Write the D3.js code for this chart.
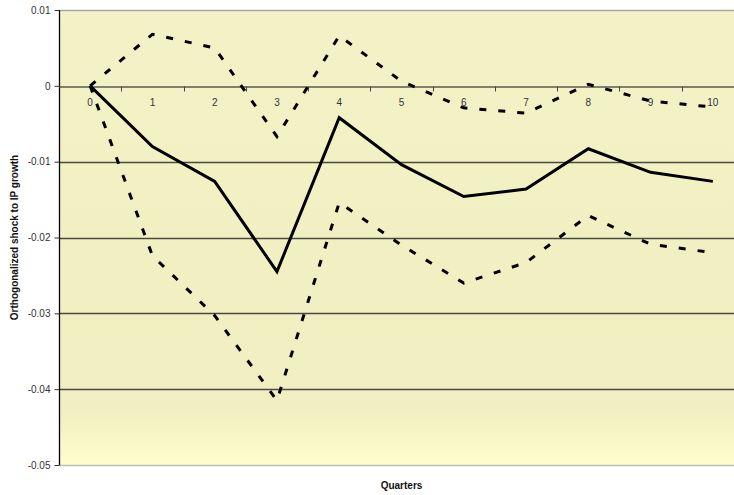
<!DOCTYPE html>
<html>
<head>
<meta charset="utf-8">
<script src="https://cdn.jsdelivr.net/npm/d3@7"></script>
<style>
  html, body { margin: 0; padding: 0; background: #fff; }
  svg { display: block; }
  text { font-family: "Liberation Sans", Arial, sans-serif; }
</style>
</head>
<body>
<svg id="chart" width="734" height="495"></svg>
<script>
const quarters = ["0","1","2","3","4","5","6","7","8","9","10"];
const response = [0, -0.0080, -0.0126, -0.0245, -0.0042, -0.0104, -0.0146, -0.0136, -0.0083, -0.0114, -0.0126];
const upperBand = [0, 0.0068, 0.0050, -0.0067, 0.0066, 0.0006, -0.0029, -0.0036, 0.0002, -0.0020, -0.0028];
const lowerBand = [0, -0.0224, -0.0303, -0.0415, -0.0154, -0.0210, -0.0260, -0.0233, -0.0171, -0.0209, -0.0220];
const yTicks = [0.01, 0, -0.01, -0.02, -0.03, -0.04, -0.05];
const yTickLabels = ["0.01", "0", "-0.01", "-0.02", "-0.03", "-0.04", "-0.05"];
const yTitle = "Orthogonalized shock to IP growth";
const xTitle = "Quarters";

const svg = d3.select("#chart");
const pLeft = 59, pRight = 744, pTop = 10, pBottom = 465;

const x = d3.scaleBand().domain(quarters).range([pLeft, pRight]).padding(0);
const y = d3.scaleLinear().domain([-0.05, 0.01]).range([pBottom, pTop]);
const cx = d => x(d) + x.bandwidth() / 2;

// background gradient
const defs = svg.append("defs");
const grad = defs.append("linearGradient").attr("id", "bg").attr("x1", 0).attr("y1", 0).attr("x2", 0).attr("y2", 1);
grad.append("stop").attr("offset", "0%").attr("stop-color", "#f3f2c6");
grad.append("stop").attr("offset", "88%").attr("stop-color", "#f1efc1");
grad.append("stop").attr("offset", "100%").attr("stop-color", "#fffdcd");

svg.append("rect").attr("x", pLeft).attr("y", pTop).attr("width", pRight - pLeft).attr("height", pBottom - pTop)
  .attr("fill", "url(#bg)");

// gridlines
svg.append("g").selectAll("line").data(yTicks.filter(v => v !== 0 && v !== 0.01 && v !== -0.05)).join("line")
  .attr("x1", pLeft).attr("x2", pRight)
  .attr("y1", d => Math.round(y(d)) + 0.5).attr("y2", d => Math.round(y(d)) + 0.5)
  .attr("stroke", "#4a4a40").attr("stroke-width", 1.3);

// top and bottom border
svg.append("line").attr("x1", pLeft).attr("x2", pRight).attr("y1", pTop + 0.5).attr("y2", pTop + 0.5)
  .attr("stroke", "#a8a8a8").attr("stroke-width", 1.5);
svg.append("line").attr("x1", pLeft).attr("x2", pRight).attr("y1", pBottom + 0.5).attr("y2", pBottom + 0.5)
  .attr("stroke", "#bdbdbd").attr("stroke-width", 1.5);

// y axis
const yAxis = d3.axisLeft(y).tickValues(yTicks).tickSize(5).tickPadding(4)
  .tickFormat((d, i) => yTickLabels[i]);
const gy = svg.append("g").attr("transform", `translate(${pLeft + 0.5},0)`).call(yAxis);
gy.select(".domain").attr("stroke", "#000").attr("stroke-width", 1.3).attr("d", `M0,${pTop}V${pBottom}`);
gy.selectAll(".tick line").attr("stroke", "#333");
gy.selectAll(".tick text").attr("font-size", 10).attr("fill", "#333")
  .attr("font-family", "'Liberation Sans', Arial, sans-serif");

// x axis at zero
const xAxis = d3.axisBottom(x).tickSize(0).tickPadding(12);
const gx = svg.append("g").attr("transform", `translate(0,${Math.round(y(0)) + 0.5})`).call(xAxis);
gx.select(".domain").attr("stroke", "#5a5a50").attr("stroke-width", 1.3);
gx.selectAll(".tick text").attr("font-size", 10).attr("fill", "#333")
  .attr("font-family", "'Liberation Sans', Arial, sans-serif");
// tick marks at band boundaries
const bounds = quarters.slice(1).map(q => x(q));
gx.append("g").selectAll("line").data(bounds).join("line")
  .attr("x1", d => Math.round(d) + 0.5).attr("x2", d => Math.round(d) + 0.5)
  .attr("y1", 0).attr("y2", 5).attr("stroke", "#444").attr("stroke-width", 1);

// lines
const line = d3.line().x((d, i) => cx(quarters[i])).y(d => y(d));

svg.append("path").datum(upperBand).attr("d", line)
  .attr("fill", "none").attr("stroke", "#000").attr("stroke-width", 3)
  .attr("stroke-dasharray", "7,12");
svg.append("path").datum(lowerBand).attr("d", line)
  .attr("fill", "none").attr("stroke", "#000").attr("stroke-width", 3)
  .attr("stroke-dasharray", "7,12");
svg.append("path").datum(response).attr("d", line)
  .attr("fill", "none").attr("stroke", "#000").attr("stroke-width", 3)
  .attr("stroke-linejoin", "miter");

// titles
svg.append("text").attr("transform", `translate(18,${(pTop + pBottom) / 2}) rotate(-90)`)
  .attr("text-anchor", "middle").attr("font-size", 10).attr("font-weight", "bold").attr("fill", "#111")
  .text(yTitle);
svg.append("text").attr("x", (pLeft + pRight) / 2).attr("y", 489)
  .attr("text-anchor", "middle").attr("font-size", 10).attr("font-weight", "bold").attr("fill", "#111")
  .text(xTitle);
</script>
</body>
</html>
